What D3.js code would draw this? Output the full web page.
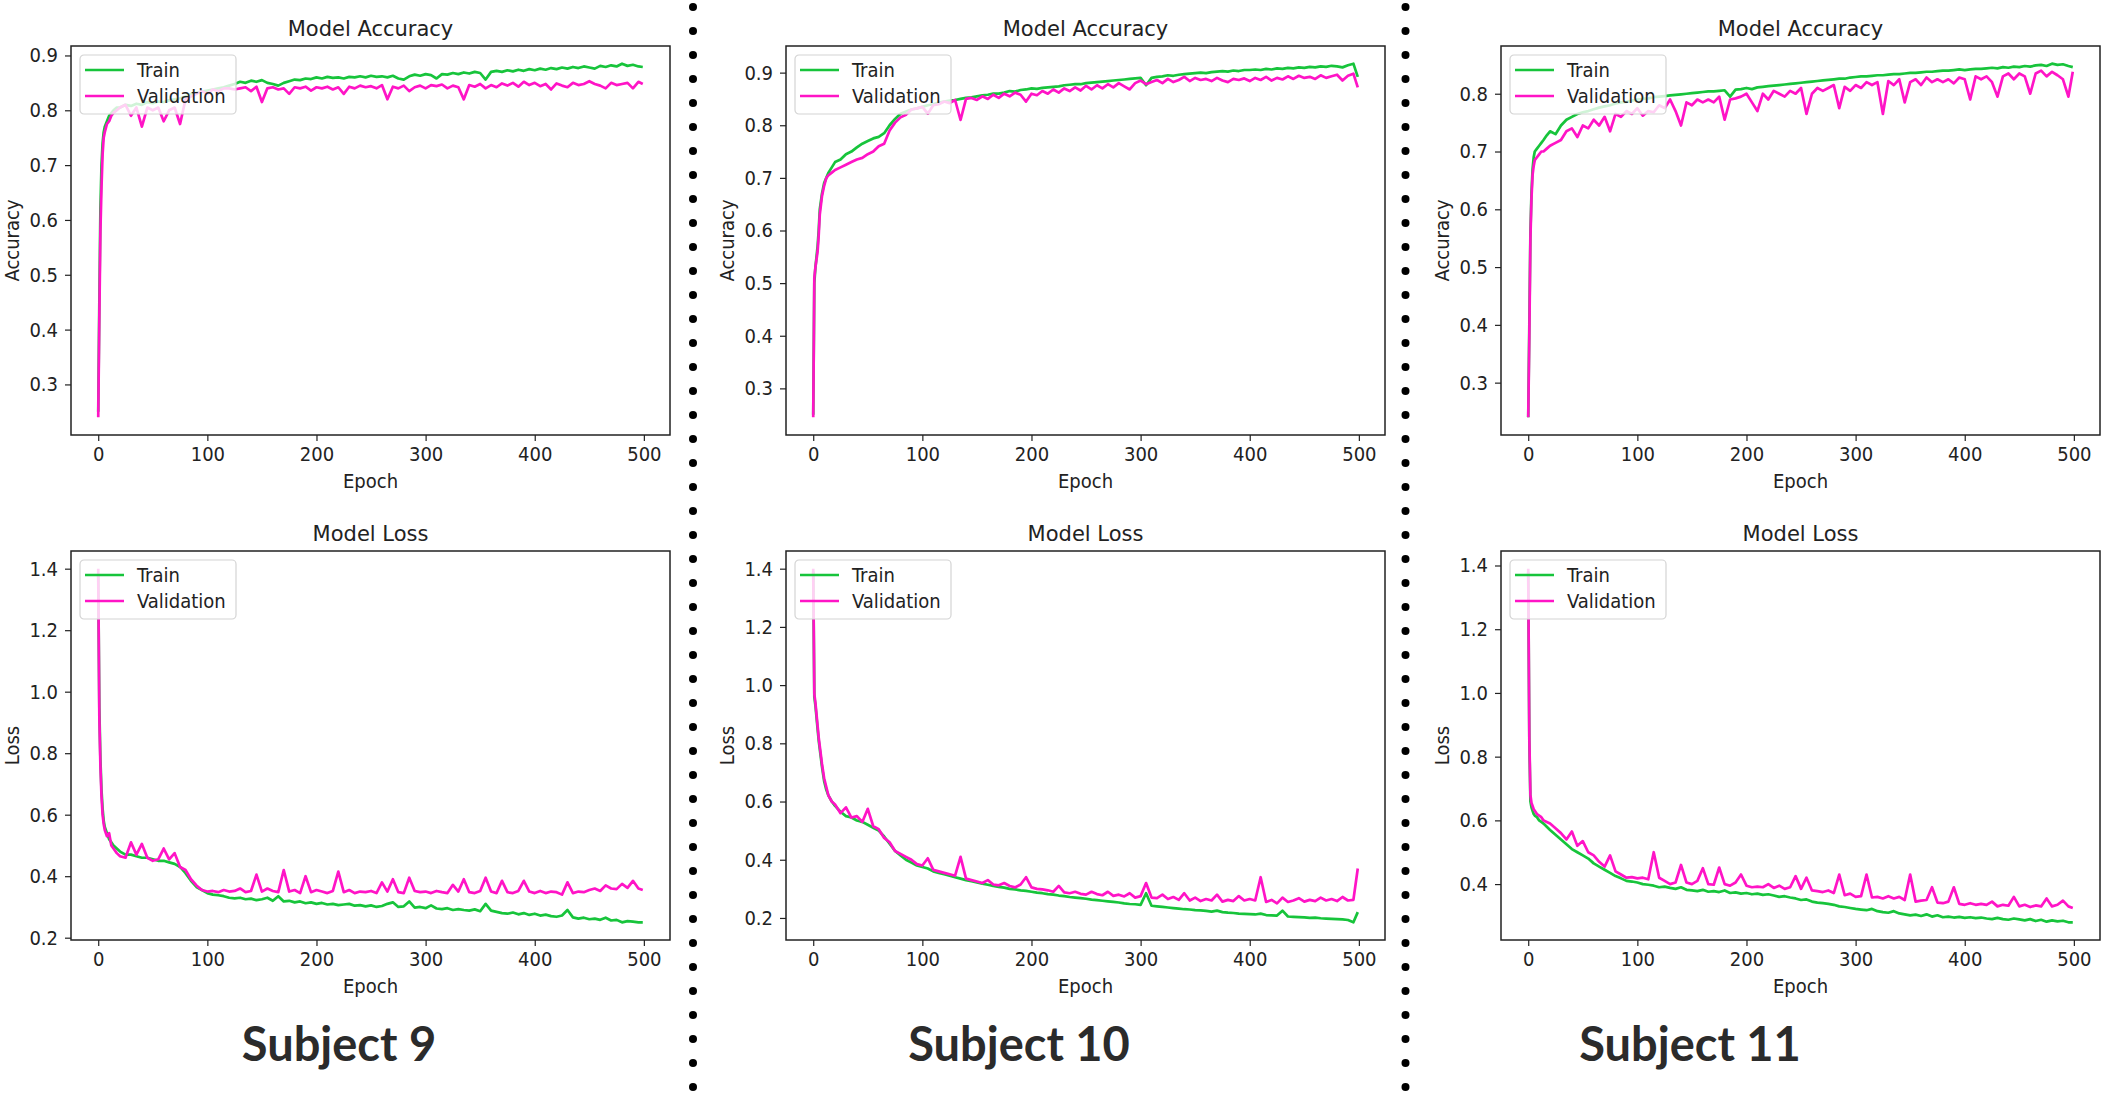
<!DOCTYPE html>
<html>
<head>
<meta charset="utf-8">
<script src="https://d3js.org/d3.v7.min.js"></script>
<style>
  body { margin: 0; background: #fff; }
  svg { display: block; }
</style>
</head>
<body>
<div id="chart"></div>
<script>
// DATA ***********************************************
// epochs at which the training history was read off
var epochs = [0, 1, 2, 3, 4, 5, 6, 8, 10, 12, 14, 17, 20,
  25, 30, 35, 40, 45, 50, 55, 60, 65, 70, 75, 80, 85, 90, 95, 100, 105, 110, 115,
  120, 125, 130, 135, 140, 145, 150, 155, 160, 165, 170, 175, 180, 185, 190, 195, 200, 205, 210,
  215, 220, 225, 230, 235, 240, 245, 250, 255, 260, 265, 270, 275, 280, 285, 290, 295, 300, 305,
  310, 315, 320, 325, 330, 335, 340, 345, 350, 355, 360, 365, 370, 375, 380, 385, 390, 395, 400,
  405, 410, 415, 420, 425, 430, 435, 440, 445, 450, 455, 460, 465, 470, 475, 480, 485, 490, 495,
  499];

// Subject 9
var acc9Train = [0.25, 0.45, 0.62, 0.70, 0.74, 0.76, 0.77, 0.78, 0.79, 0.795, 0.80, 0.805, 0.805,
  0.81, 0.808, 0.812, 0.81, 0.815, 0.813, 0.816, 0.815, 0.818, 0.82, 0.822, 0.825, 0.83, 0.832, 0.834, 0.836, 0.838, 0.84, 0.842,
  0.845, 0.848, 0.852, 0.85, 0.854, 0.852, 0.855, 0.85, 0.848, 0.845, 0.85, 0.853, 0.856, 0.855, 0.858, 0.857, 0.86, 0.858, 0.861,
  0.859, 0.86, 0.858, 0.861, 0.86, 0.862, 0.86, 0.863, 0.861, 0.862, 0.86, 0.863, 0.858, 0.856, 0.862, 0.865, 0.863, 0.866, 0.864,
  0.858, 0.866, 0.865, 0.868, 0.866, 0.869, 0.867, 0.87, 0.868, 0.856, 0.87, 0.872, 0.87, 0.873, 0.871, 0.874, 0.872, 0.875, 0.873,
  0.876, 0.874, 0.877, 0.875, 0.878, 0.876, 0.879, 0.877, 0.88, 0.878, 0.876, 0.881, 0.879, 0.882, 0.88, 0.885, 0.881, 0.883, 0.88,
  0.879];
var acc9Val = [0.24, 0.42, 0.58, 0.66, 0.72, 0.75, 0.76, 0.775, 0.78, 0.79, 0.795, 0.80, 0.805,
  0.81, 0.79, 0.805, 0.77, 0.805, 0.80, 0.805, 0.78, 0.80, 0.805, 0.775, 0.82, 0.825, 0.83, 0.835, 0.83, 0.838, 0.835, 0.84,
  0.84, 0.838, 0.84, 0.842, 0.835, 0.843, 0.815, 0.84, 0.842, 0.838, 0.84, 0.83, 0.842, 0.84, 0.843, 0.836, 0.842, 0.84, 0.843,
  0.838, 0.842, 0.83, 0.843, 0.84, 0.845, 0.842, 0.844, 0.84, 0.846, 0.82, 0.843, 0.84, 0.845, 0.835, 0.842, 0.845, 0.84, 0.846,
  0.844, 0.847, 0.84, 0.845, 0.842, 0.82, 0.846, 0.843, 0.848, 0.84, 0.846, 0.842, 0.849, 0.845, 0.85, 0.843, 0.852, 0.846, 0.85,
  0.844, 0.848, 0.838, 0.849, 0.845, 0.842, 0.85, 0.846, 0.848, 0.853, 0.848, 0.845, 0.84, 0.85, 0.846, 0.848, 0.85, 0.84, 0.852,
  0.848];
var loss9Train = [1.38, 0.95, 0.78, 0.68, 0.62, 0.58, 0.56, 0.54, 0.52, 0.51, 0.50, 0.49, 0.48,
  0.47, 0.47, 0.465, 0.46, 0.46, 0.455, 0.45, 0.45, 0.445, 0.44, 0.43, 0.41, 0.385, 0.365, 0.355, 0.345, 0.34, 0.338, 0.335,
  0.33, 0.328, 0.33, 0.325, 0.327, 0.322, 0.325, 0.33, 0.32, 0.335, 0.318, 0.32, 0.315, 0.318, 0.312, 0.315, 0.31, 0.313, 0.308,
  0.31, 0.306, 0.308, 0.31, 0.304, 0.306, 0.302, 0.305, 0.30, 0.303, 0.31, 0.315, 0.30, 0.302, 0.318, 0.298, 0.30, 0.296, 0.305,
  0.295, 0.293, 0.296, 0.29, 0.293, 0.29, 0.288, 0.292, 0.286, 0.31, 0.288, 0.284, 0.28, 0.278, 0.282, 0.276, 0.28, 0.274, 0.278,
  0.272, 0.275, 0.27, 0.268, 0.272, 0.29, 0.266, 0.262, 0.265, 0.26, 0.262, 0.258, 0.265, 0.256, 0.258, 0.25, 0.254, 0.252, 0.25,
  0.25];
var loss9Val = [1.40, 0.92, 0.76, 0.66, 0.60, 0.57, 0.55, 0.53, 0.54, 0.50, 0.49, 0.475, 0.465,
  0.46, 0.51, 0.47, 0.505, 0.46, 0.45, 0.455, 0.49, 0.455, 0.475, 0.43, 0.42, 0.39, 0.37, 0.355, 0.35, 0.352, 0.348, 0.355,
  0.35, 0.352, 0.36, 0.348, 0.352, 0.405, 0.35, 0.36, 0.352, 0.348, 0.42, 0.35, 0.355, 0.345, 0.40, 0.348, 0.355, 0.35, 0.345,
  0.352, 0.415, 0.348, 0.355, 0.345, 0.35, 0.348, 0.352, 0.345, 0.38, 0.35, 0.39, 0.348, 0.345, 0.395, 0.352, 0.348, 0.35, 0.345,
  0.352, 0.348, 0.345, 0.372, 0.35, 0.39, 0.348, 0.345, 0.352, 0.395, 0.35, 0.345, 0.385, 0.348, 0.345, 0.352, 0.385, 0.35, 0.345,
  0.352, 0.345, 0.35, 0.348, 0.34, 0.38, 0.345, 0.35, 0.348, 0.355, 0.36, 0.352, 0.37, 0.36, 0.358, 0.375, 0.362, 0.385, 0.36,
  0.355];

// Subject 10
var acc10Train = [0.25, 0.50, 0.53, 0.55, 0.57, 0.60, 0.64, 0.67, 0.69, 0.70, 0.71, 0.72, 0.73,
  0.735, 0.745, 0.75, 0.758, 0.765, 0.77, 0.775, 0.778, 0.785, 0.80, 0.812, 0.822, 0.826, 0.83, 0.832, 0.835, 0.838, 0.84, 0.843,
  0.845, 0.847, 0.848, 0.85, 0.852, 0.853, 0.855, 0.857, 0.858, 0.86, 0.86, 0.862, 0.865, 0.864, 0.867, 0.868, 0.87, 0.869, 0.871,
  0.872, 0.873, 0.874, 0.876, 0.877, 0.878, 0.878, 0.88, 0.881, 0.882, 0.883, 0.884, 0.885, 0.886, 0.887, 0.888, 0.889, 0.89, 0.876,
  0.89, 0.892, 0.893, 0.895, 0.894, 0.896, 0.897, 0.898, 0.899, 0.90, 0.899, 0.901, 0.902, 0.903, 0.902, 0.904, 0.903, 0.905, 0.905,
  0.906, 0.905, 0.907, 0.906, 0.908, 0.907, 0.909, 0.908, 0.91, 0.909, 0.911, 0.91, 0.912, 0.911, 0.913, 0.912, 0.91, 0.914, 0.917,
  0.892];
var acc10Val = [0.245, 0.51, 0.53, 0.545, 0.56, 0.59, 0.63, 0.665, 0.685, 0.70, 0.705, 0.71, 0.715,
  0.72, 0.725, 0.73, 0.735, 0.738, 0.745, 0.75, 0.76, 0.765, 0.79, 0.805, 0.815, 0.82, 0.83, 0.832, 0.835, 0.822, 0.838, 0.84,
  0.845, 0.842, 0.848, 0.81, 0.85, 0.852, 0.848, 0.855, 0.85, 0.858, 0.852, 0.86, 0.855, 0.862, 0.858, 0.845, 0.86, 0.857, 0.865,
  0.86, 0.868, 0.862, 0.87, 0.865, 0.872, 0.866, 0.875, 0.868, 0.876, 0.87, 0.878, 0.872, 0.88, 0.874, 0.868, 0.88, 0.885, 0.878,
  0.882, 0.886, 0.88, 0.888, 0.882, 0.886, 0.892, 0.884, 0.89, 0.886, 0.888, 0.884, 0.89, 0.885, 0.882, 0.888, 0.886, 0.889, 0.884,
  0.89, 0.886, 0.892, 0.885, 0.89, 0.887, 0.893, 0.888, 0.894, 0.89, 0.892, 0.888, 0.895, 0.89, 0.893, 0.896, 0.885, 0.894, 0.898,
  0.872];
var loss10Train = [1.39, 0.96, 0.93, 0.89, 0.85, 0.81, 0.78, 0.72, 0.67, 0.64, 0.62, 0.60, 0.585,
  0.565, 0.55, 0.545, 0.535, 0.53, 0.52, 0.51, 0.50, 0.48, 0.455, 0.43, 0.415, 0.40, 0.39, 0.38, 0.375, 0.37, 0.36, 0.355,
  0.35, 0.345, 0.34, 0.335, 0.33, 0.326, 0.322, 0.318, 0.314, 0.31, 0.307, 0.304, 0.30, 0.298, 0.295, 0.293, 0.29, 0.287, 0.285,
  0.282, 0.28, 0.277, 0.275, 0.272, 0.27, 0.268, 0.266, 0.263, 0.261, 0.259, 0.257, 0.255, 0.253, 0.25, 0.248, 0.247, 0.245, 0.285,
  0.242, 0.24, 0.238, 0.236, 0.234, 0.232, 0.23, 0.229, 0.227, 0.226, 0.224, 0.222, 0.225, 0.22, 0.218, 0.217, 0.215, 0.214, 0.213,
  0.212, 0.215, 0.21, 0.209, 0.208, 0.225, 0.205, 0.204, 0.203, 0.202, 0.20, 0.201, 0.199, 0.198, 0.197, 0.196, 0.195, 0.193, 0.185,
  0.22];
var loss10Val = [1.40, 0.97, 0.94, 0.90, 0.86, 0.82, 0.79, 0.73, 0.68, 0.65, 0.62, 0.60, 0.59,
  0.56, 0.58, 0.545, 0.55, 0.53, 0.575, 0.515, 0.505, 0.475, 0.46, 0.43, 0.42, 0.41, 0.40, 0.385, 0.38, 0.405, 0.365, 0.36,
  0.355, 0.35, 0.345, 0.41, 0.335, 0.33, 0.325, 0.32, 0.33, 0.315, 0.312, 0.32, 0.31, 0.305, 0.315, 0.34, 0.305, 0.30, 0.298,
  0.295, 0.29, 0.31, 0.288, 0.285, 0.29, 0.283, 0.28, 0.29, 0.282, 0.278, 0.29, 0.276, 0.28, 0.274, 0.285, 0.27, 0.275, 0.32,
  0.27, 0.268, 0.28, 0.265, 0.272, 0.262, 0.285, 0.26, 0.27, 0.258, 0.265, 0.26, 0.28, 0.256, 0.262, 0.258, 0.275, 0.26, 0.265,
  0.26, 0.34, 0.255, 0.262, 0.25, 0.27, 0.255, 0.26, 0.268, 0.256, 0.262, 0.258, 0.27, 0.26, 0.265, 0.258, 0.272, 0.26, 0.262,
  0.37];

// Subject 11
var acc11Train = [0.24, 0.40, 0.56, 0.63, 0.67, 0.69, 0.70, 0.705, 0.71, 0.715, 0.72, 0.728, 0.735,
  0.73, 0.745, 0.755, 0.76, 0.765, 0.768, 0.77, 0.773, 0.776, 0.778, 0.78, 0.783, 0.785, 0.786, 0.788, 0.79, 0.791, 0.792, 0.794,
  0.795, 0.796, 0.797, 0.798, 0.799, 0.80, 0.801, 0.802, 0.803, 0.804, 0.804, 0.805, 0.806, 0.795, 0.807, 0.808, 0.81, 0.808, 0.811,
  0.812, 0.813, 0.814, 0.815, 0.816, 0.817, 0.818, 0.819, 0.82, 0.821, 0.822, 0.823, 0.824, 0.825, 0.826, 0.826, 0.828, 0.829, 0.83,
  0.83, 0.831, 0.832, 0.832, 0.833, 0.834, 0.834, 0.835, 0.836, 0.836, 0.837, 0.838, 0.838, 0.839, 0.84, 0.84, 0.841, 0.842, 0.841,
  0.842, 0.843, 0.843, 0.844, 0.845, 0.844, 0.846, 0.845, 0.847, 0.846, 0.848, 0.847, 0.849, 0.85, 0.848, 0.852, 0.85, 0.851, 0.848,
  0.846];
var acc11Val = [0.24, 0.38, 0.55, 0.62, 0.66, 0.675, 0.685, 0.69, 0.695, 0.70, 0.70, 0.705, 0.71,
  0.715, 0.72, 0.735, 0.74, 0.725, 0.745, 0.74, 0.755, 0.745, 0.76, 0.735, 0.765, 0.76, 0.77, 0.765, 0.775, 0.762, 0.77, 0.768,
  0.78, 0.775, 0.79, 0.77, 0.745, 0.785, 0.78, 0.79, 0.785, 0.79, 0.785, 0.795, 0.755, 0.79, 0.792, 0.795, 0.80, 0.785, 0.77,
  0.80, 0.79, 0.805, 0.80, 0.795, 0.805, 0.80, 0.81, 0.765, 0.80, 0.81, 0.805, 0.81, 0.815, 0.775, 0.812, 0.805, 0.815, 0.81,
  0.82, 0.815, 0.82, 0.765, 0.822, 0.815, 0.825, 0.785, 0.82, 0.825, 0.815, 0.828, 0.82, 0.825, 0.82, 0.825, 0.818, 0.828, 0.825,
  0.79, 0.83, 0.825, 0.83, 0.82, 0.795, 0.83, 0.835, 0.825, 0.835, 0.83, 0.80, 0.835, 0.84, 0.83, 0.838, 0.832, 0.825, 0.795,
  0.838];
var loss11Train = [1.38, 0.85, 0.66, 0.64, 0.63, 0.62, 0.615, 0.61, 0.60, 0.595, 0.59, 0.58, 0.57,
  0.555, 0.54, 0.525, 0.51, 0.50, 0.49, 0.48, 0.465, 0.455, 0.445, 0.435, 0.425, 0.418, 0.41, 0.408, 0.405, 0.40, 0.398, 0.395,
  0.39, 0.392, 0.388, 0.385, 0.39, 0.382, 0.38, 0.378, 0.382, 0.376, 0.378, 0.375, 0.38, 0.372, 0.374, 0.37, 0.372, 0.368, 0.37,
  0.366, 0.368, 0.364, 0.36, 0.362, 0.358, 0.355, 0.35, 0.352, 0.345, 0.342, 0.34, 0.338, 0.335, 0.33, 0.328, 0.325, 0.322, 0.32,
  0.318, 0.322, 0.315, 0.312, 0.31, 0.315, 0.308, 0.305, 0.302, 0.304, 0.30, 0.305, 0.298, 0.302, 0.296, 0.298, 0.295, 0.297, 0.294,
  0.296, 0.293, 0.295, 0.292, 0.29, 0.294, 0.29, 0.288, 0.292, 0.289, 0.286, 0.29, 0.284, 0.288, 0.282, 0.286, 0.283, 0.285, 0.28,
  0.28];
var loss11Val = [1.39, 0.86, 0.68, 0.655, 0.645, 0.635, 0.63, 0.62, 0.615, 0.61, 0.60, 0.595, 0.59,
  0.575, 0.56, 0.54, 0.565, 0.52, 0.535, 0.50, 0.49, 0.47, 0.455, 0.49, 0.44, 0.43, 0.42, 0.422, 0.418, 0.42, 0.415, 0.50,
  0.42, 0.41, 0.40, 0.405, 0.46, 0.405, 0.40, 0.41, 0.45, 0.40, 0.398, 0.452, 0.40, 0.395, 0.405, 0.43, 0.395, 0.39, 0.392,
  0.39, 0.40, 0.388, 0.395, 0.385, 0.39, 0.425, 0.385, 0.42, 0.38, 0.378, 0.375, 0.38, 0.372, 0.43, 0.365, 0.37, 0.36, 0.362,
  0.43, 0.358, 0.36, 0.355, 0.362, 0.355, 0.36, 0.35, 0.43, 0.345, 0.348, 0.35, 0.39, 0.342, 0.34, 0.345, 0.39, 0.338, 0.335,
  0.34, 0.335, 0.338, 0.335, 0.345, 0.33, 0.335, 0.332, 0.36, 0.33, 0.335, 0.328, 0.333, 0.33, 0.355, 0.33, 0.335, 0.348, 0.33,
  0.325];

var subjects = ["Subject 9", "Subject 10", "Subject 11"];
var seriesNames = ["Train", "Validation"];
var accTicks = [0.3, 0.4, 0.5, 0.6, 0.7, 0.8, 0.9];
var lossTicks = [0.2, 0.4, 0.6, 0.8, 1.0, 1.2, 1.4];
var epochTicks = [0, 100, 200, 300, 400, 500];

// LAYOUT ***********************************************
var width = 2107;
var height = 1099;
var colLeft = [71, 786, 1501];
var rowTop = [46, 551];
var plotW = 599;
var plotH = 389;
var subjectX = [339, 1019, 1690];
var green = "#17c43b";
var pink = "#ff14c6";
var font = "'DejaVu Sans', sans-serif";
var fontNarrow = "'DejaVu Sans Condensed', 'DejaVu Sans', sans-serif";

var svg = d3.select("#chart")
        .append("svg")
        .attr("width", width)
        .attr("height", height);

svg.append("rect")
        .attr("width", width)
        .attr("height", height)
        .attr("fill", "white");

var panels = [
        {col: 0, row: 0, title: "Model Accuracy", ylab: "Accuracy", train: acc9Train, val: acc9Val, ticks: accTicks},
        {col: 1, row: 0, title: "Model Accuracy", ylab: "Accuracy", train: acc10Train, val: acc10Val, ticks: accTicks},
        {col: 2, row: 0, title: "Model Accuracy", ylab: "Accuracy", train: acc11Train, val: acc11Val, ticks: accTicks},
        {col: 0, row: 1, title: "Model Loss", ylab: "Loss", train: loss9Train, val: loss9Val, ticks: lossTicks},
        {col: 1, row: 1, title: "Model Loss", ylab: "Loss", train: loss10Train, val: loss10Val, ticks: lossTicks},
        {col: 2, row: 1, title: "Model Loss", ylab: "Loss", train: loss11Train, val: loss11Val, ticks: lossTicks}
];

panels.forEach(drawPanel);
drawSeparators();
drawSubjects();

// FUNCTIONS ***********************************************

function drawPanel(p) {
        var g = svg.append("g")
                .attr("transform", "translate(" + colLeft[p.col] + "," + rowTop[p.row] + ")");

        // matplotlib style 5% margins
        var x = d3.scaleLinear()
                .domain([-0.05 * 499, 499 * 1.05])
                .range([0, plotW]);
        var ext = d3.extent(p.train.concat(p.val));
        var pad = (ext[1] - ext[0]) * 0.05;
        var y = d3.scaleLinear()
                .domain([ext[0] - pad, ext[1] + pad])
                .range([plotH, 0]);

        var yTicks = p.ticks.filter(function (t) {
                return t >= y.domain()[0] && t <= y.domain()[1];
        });

        var xAxis = g.append("g")
                .attr("transform", "translate(0," + plotH + ")")
                .call(d3.axisBottom(x).tickValues(epochTicks).tickSize(6).tickPadding(6).tickFormat(d3.format("d")));
        var yAxis = g.append("g")
                .call(d3.axisLeft(y).tickValues(yTicks).tickSize(6).tickPadding(7).tickFormat(d3.format(".1f")));

        [xAxis, yAxis].forEach(function (a) {
                a.select(".domain").remove();
                a.selectAll(".tick line").attr("stroke", "#222").attr("stroke-width", 1.2);
                a.selectAll(".tick text")
                        .attr("font-family", fontNarrow)
                        .attr("font-size", 20)
                        .attr("fill", "#222");
        });

        var line = d3.line()
                .x(function (d, i) { return x(epochs[i]); })
                .y(function (d) { return y(d); })
                .curve(d3.curveLinear);

        g.append("path")
                .datum(p.train)
                .attr("d", line)
                .attr("fill", "none")
                .attr("stroke", green)
                .attr("stroke-width", 2.7)
                .attr("stroke-linejoin", "round");

        g.append("path")
                .datum(p.val)
                .attr("d", line)
                .attr("fill", "none")
                .attr("stroke", pink)
                .attr("stroke-width", 2.7)
                .attr("stroke-linejoin", "round");

        // frame
        g.append("rect")
                .attr("width", plotW)
                .attr("height", plotH)
                .attr("fill", "none")
                .attr("stroke", "#222")
                .attr("stroke-width", 1.5);

        // title and labels
        g.append("text")
                .text(p.title)
                .attr("x", plotW / 2)
                .attr("y", -10)
                .attr("text-anchor", "middle")
                .attr("font-family", font)
                .attr("font-size", 21)
                .attr("fill", "#222");

        g.append("text")
                .text("Epoch")
                .attr("x", plotW / 2)
                .attr("y", plotH + 53)
                .attr("text-anchor", "middle")
                .attr("font-family", fontNarrow)
                .attr("font-size", 20)
                .attr("fill", "#222");

        g.append("text")
                .text(p.ylab)
                .attr("transform", "translate(-59," + plotH / 2 + ") rotate(-90)")
                .attr("dy", "0.35em")
                .attr("text-anchor", "middle")
                .attr("font-family", fontNarrow)
                .attr("font-size", 20)
                .attr("fill", "#222");

        // legend
        var leg = g.append("g").attr("transform", "translate(9,9)");
        leg.append("rect")
                .attr("width", 156)
                .attr("height", 59)
                .attr("rx", 4)
                .attr("fill", "white")
                .attr("fill-opacity", 0.8)
                .attr("stroke", "#d4d4d4")
                .attr("stroke-width", 1.2);

        seriesNames.forEach(function (name, i) {
                var ly = 15 + i * 26;
                leg.append("line")
                        .attr("x1", 5)
                        .attr("x2", 44)
                        .attr("y1", ly)
                        .attr("y2", ly)
                        .attr("stroke", i === 0 ? green : pink)
                        .attr("stroke-width", 2.7);
                leg.append("text")
                        .text(name)
                        .attr("x", 57)
                        .attr("y", ly)
                        .attr("dy", "0.35em")
                        .attr("font-family", fontNarrow)
                        .attr("font-size", 20)
                        .attr("fill", "#222");
        });
}

function drawSeparators() {
        [693, 1405.5].forEach(function (sx) {
                svg.append("g").selectAll("circle")
                        .data(d3.range(7, height, 24))
                        .enter()
                        .append("circle")
                        .attr("cx", sx)
                        .attr("cy", function (d) { return d; })
                        .attr("r", 4)
                        .attr("fill", "black");
        });
}

function drawSubjects() {
        svg.selectAll(".subject")
                .data(subjects)
                .enter()
                .append("text")
                .attr("class", "subject")
                .text(function (d) { return d; })
                .attr("x", function (d, i) { return subjectX[i]; })
                .attr("y", 1061)
                .attr("text-anchor", "middle")
                .attr("font-family", "Lato, 'Open Sans', sans-serif")
                .attr("font-weight", 700)
                .attr("font-size", 47)
                .attr("fill", "#2b2b2b");
}
</script>
</body>
</html>
